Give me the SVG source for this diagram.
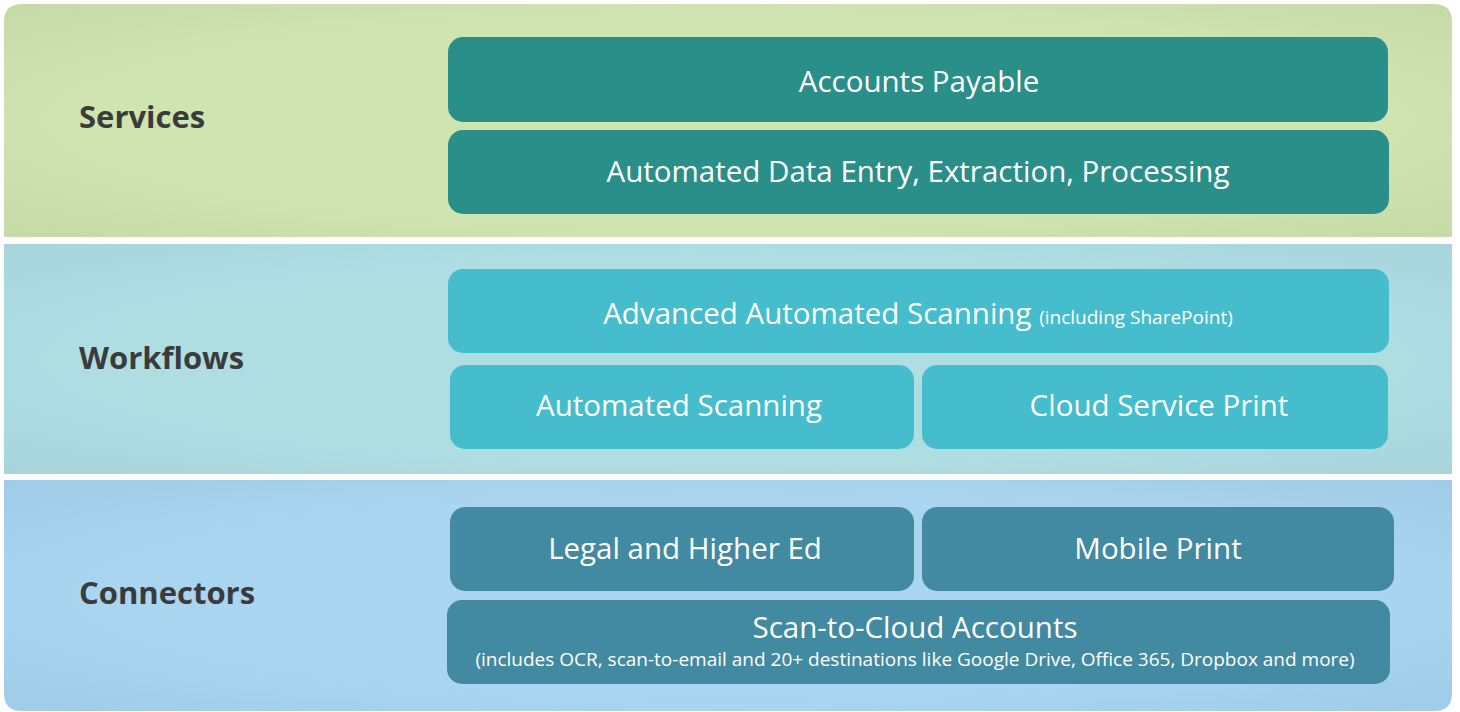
<svg xmlns="http://www.w3.org/2000/svg" width="1460" height="712" viewBox="0 0 1460 712">
<style>
.lbl{font-family:"Open Sans","DejaVu Sans",sans-serif;font-weight:bold;font-size:31px;fill:#3b3b3b}
.bt{font-family:"Open Sans","DejaVu Sans",sans-serif;font-size:29.5px;fill:#ffffff;text-anchor:middle}
.sm{font-family:"Open Sans","DejaVu Sans",sans-serif;font-size:19px;fill:#ffffff}
.svc{fill:#2b8f89}
.wf{fill:#45bdcd}
.cn{fill:#428aa1}
</style>
<defs>
<radialGradient id="gS" cx="0.5" cy="0.5" r="0.75">
<stop offset="0.6" stop-color="#d0e4b2"/><stop offset="1" stop-color="#c3d8a4"/>
</radialGradient>
<radialGradient id="gW" cx="0.5" cy="0.5" r="0.75">
<stop offset="0.6" stop-color="#aedde2"/><stop offset="1" stop-color="#a6d3da"/>
</radialGradient>
<radialGradient id="gC" cx="0.5" cy="0.5" r="0.75">
<stop offset="0.6" stop-color="#a9d5f0"/><stop offset="1" stop-color="#9fc9e6"/>
</radialGradient>
</defs>
<rect width="1460" height="712" fill="#ffffff"/>
<g id="band-services">
<path d="M22 4 H1434 Q1452 4 1452 22 V237 H4 V22 Q4 4 22 4 Z" fill="url(#gS)"/>
<text class="lbl" x="79" y="128">Services</text>
</g>
<g id="band-workflows">
<rect x="4" y="244" width="1448" height="230" fill="url(#gW)"/>
<text class="lbl" x="79" y="369">Workflows</text>
</g>
<g id="band-connectors">
<path d="M4 480 H1452 V693 Q1452 711 1434 711 H22 Q4 711 4 693 Z" fill="url(#gC)"/>
<text class="lbl" x="79" y="604">Connectors</text>
</g>
<g id="connectors"></g>
<g id="accounts-payable">
<rect class="svc" x="448" y="37" width="940" height="85" rx="15"/>
<text class="bt" x="919" y="92">Accounts Payable</text>
</g>
<g id="automated-data-entry">
<rect class="svc" x="448" y="130" width="941" height="84" rx="15"/>
<text class="bt" x="918" y="182">Automated Data Entry, Extraction, Processing</text>
</g>
<g id="advanced-automated-scanning">
<rect class="wf" x="448" y="269" width="941" height="84" rx="15"/>
<text class="bt" x="918" y="324"><tspan>Advanced Automated Scanning </tspan><tspan class="sm">(including SharePoint)</tspan></text>
</g>
<g id="automated-scanning">
<rect class="wf" x="450" y="365" width="464" height="84" rx="15"/>
<text class="bt" x="679" y="416">Automated Scanning</text>
</g>
<g id="cloud-service-print">
<rect class="wf" x="922" y="365" width="466" height="84" rx="15"/>
<text class="bt" x="1159" y="416">Cloud Service Print</text>
</g>
<g id="legal-higher-ed">
<rect class="cn" x="450" y="507" width="464" height="84" rx="15"/>
<text class="bt" x="685" y="559">Legal and Higher Ed</text>
</g>
<g id="mobile-print">
<rect class="cn" x="922" y="507" width="472" height="84" rx="15"/>
<text class="bt" x="1158" y="559">Mobile Print</text>
</g>
<g id="scan-to-cloud">
<rect class="cn" x="447" y="600" width="943" height="84" rx="15"/>
<text class="bt" x="915" y="638">Scan-to-Cloud Accounts</text>
<text class="sm" x="915" y="666" text-anchor="middle">(includes OCR, scan-to-email and 20+ destinations like Google Drive, Office 365, Dropbox and more)</text>
</g>
</svg>
